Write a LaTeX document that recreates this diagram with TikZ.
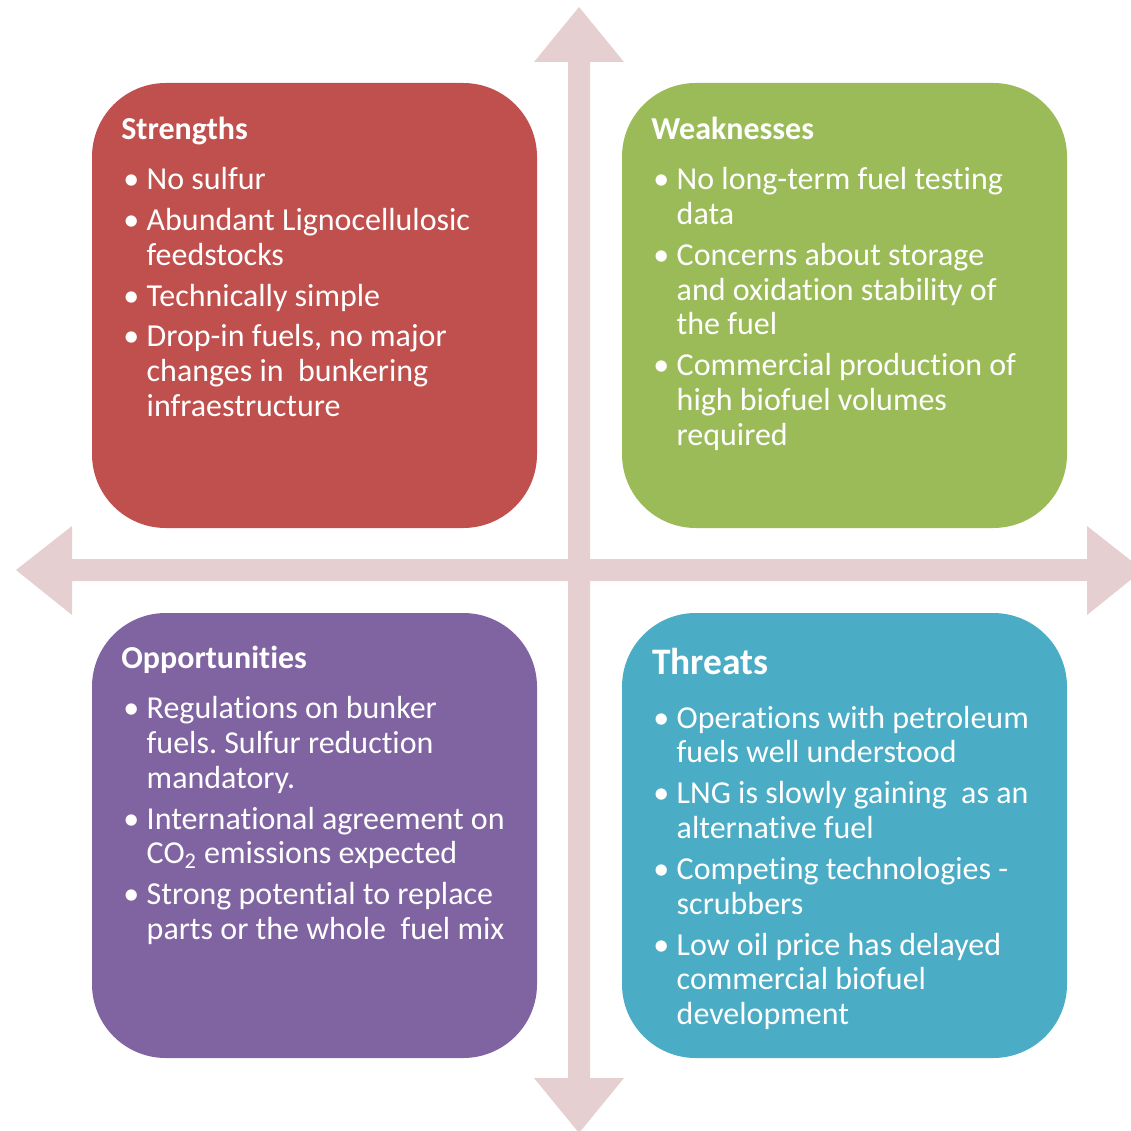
\documentclass[tikz,border=0pt]{standalone}
\usepackage{fontspec}
\setmainfont{Carlito}[Ligatures=NoCommon]
\frenchspacing
\usetikzlibrary{positioning}
\definecolor{swotred}{HTML}{C0504D}
\definecolor{swotgreen}{HTML}{9BBB59}
\definecolor{swotpurple}{HTML}{8064A2}
\definecolor{swotteal}{HTML}{4BACC6}
\definecolor{axispink}{HTML}{E6CFD0}

% bullet and hanging indent for the lists
\newcommand{\bul}{\makebox[13.3pt][l]{\textbullet}}
\newcommand{\hang}{\hspace*{13.3pt}}
% list body, first baseline on the node's base
\newenvironment{swotlist}{\begin{tabular}[t]{@{}l@{}}}{\end{tabular}}

\begin{document}
\begin{tikzpicture}[
    x=0.02cm, y=-0.02cm,
    quad/.style={fill=#1, rounded corners=42pt},
    head/.style={anchor=base west, inner sep=0pt, text=white,
      font=\bfseries\fontsize{18.2}{19.84}\selectfont},
    list/.style={anchor=base west, inner sep=0pt, text=white,
      font=\fontsize{18.2}{19.84}\selectfont}
  ]
  \useasboundingbox (0,0) rectangle (1130,1131);

  % Axes
  \fill[axispink] (568,62) -- (534,62) -- (579,7) -- (624,62) -- (590,62)
    -- (590,1078) -- (624,1078) -- (579,1133) -- (534,1078) -- (568,1078) -- cycle;
  \fill[axispink] (72,559) -- (72,526) -- (16,570) -- (72,615) -- (72,581)
    -- (1087,581) -- (1087,615) -- (1143,570) -- (1087,526) -- (1087,559) -- cycle;

  % Quadrants
  \fill[quad=swotred] (92,83) rectangle (537,528);
  \fill[quad=swotgreen] (622,83) rectangle (1067,528);
  \fill[quad=swotpurple] (92,613) rectangle (537,1058);
  \fill[quad=swotteal] (622,613) rectangle (1067,1058);

  % Strengths
  \node[head] (strh) at (121,139.5) {Strengths};
  \node[list] (strl) at (123,189.5) {\begin{swotlist}
    \bul No sulfur\\[3.4pt]
    \bul Abundant Lignocellulosic\\ \hang feedstocks\\[3.4pt]
    \bul Technically simple\\[3.4pt]
    \bul Drop-in fuels, no major\\ \hang changes in\ \ bunkering\\ \hang infraestructure
  \end{swotlist}};

  % Weaknesses
  \node[head] (weah) at (651,139.5) {Weaknesses};
  \node[list] (weal) at (653,189.5) {\begin{swotlist}
    \bul No long-term fuel testing\\ \hang data\\[3.4pt]
    \bul Concerns about storage\\ \hang and oxidation stability of\\ \hang the fuel\\[3.4pt]
    \bul Commercial production of\\ \hang high biofuel volumes\\ \hang required
  \end{swotlist}};

  % Opportunities
  \node[head] (opph) at (121,668.5) {Opportunities};
  \node[list] (oppl) at (123,718.5) {\begin{swotlist}
    \bul Regulations on bunker\\ \hang fuels. Sulfur reduction\\ \hang mandatory.\\[3.4pt]
    \bul International agreement on\\ \hang CO\textsubscript{2} emissions expected\\[3.4pt]
    \bul Strong potential to replace\\ \hang parts or the whole\ \ fuel mix
  \end{swotlist}};

  % Threats
  \node[head, font=\bfseries\fontsize{21.3}{23}\selectfont] (thrh) at (652,674.5) {Threats};
  \node[list] (thrl) at (653,728) {\begin{swotlist}
    \bul Operations with petroleum\\ \hang fuels well understood\\[3.4pt]
    \bul LNG is slowly gaining\ \ as an\\ \hang alternative fuel\\[3.4pt]
    \bul Competing technologies -\\ \hang scrubbers\\[3.4pt]
    \bul Low oil price has delayed\\ \hang commercial biofuel\\ \hang development
  \end{swotlist}};
\end{tikzpicture}
\end{document}
